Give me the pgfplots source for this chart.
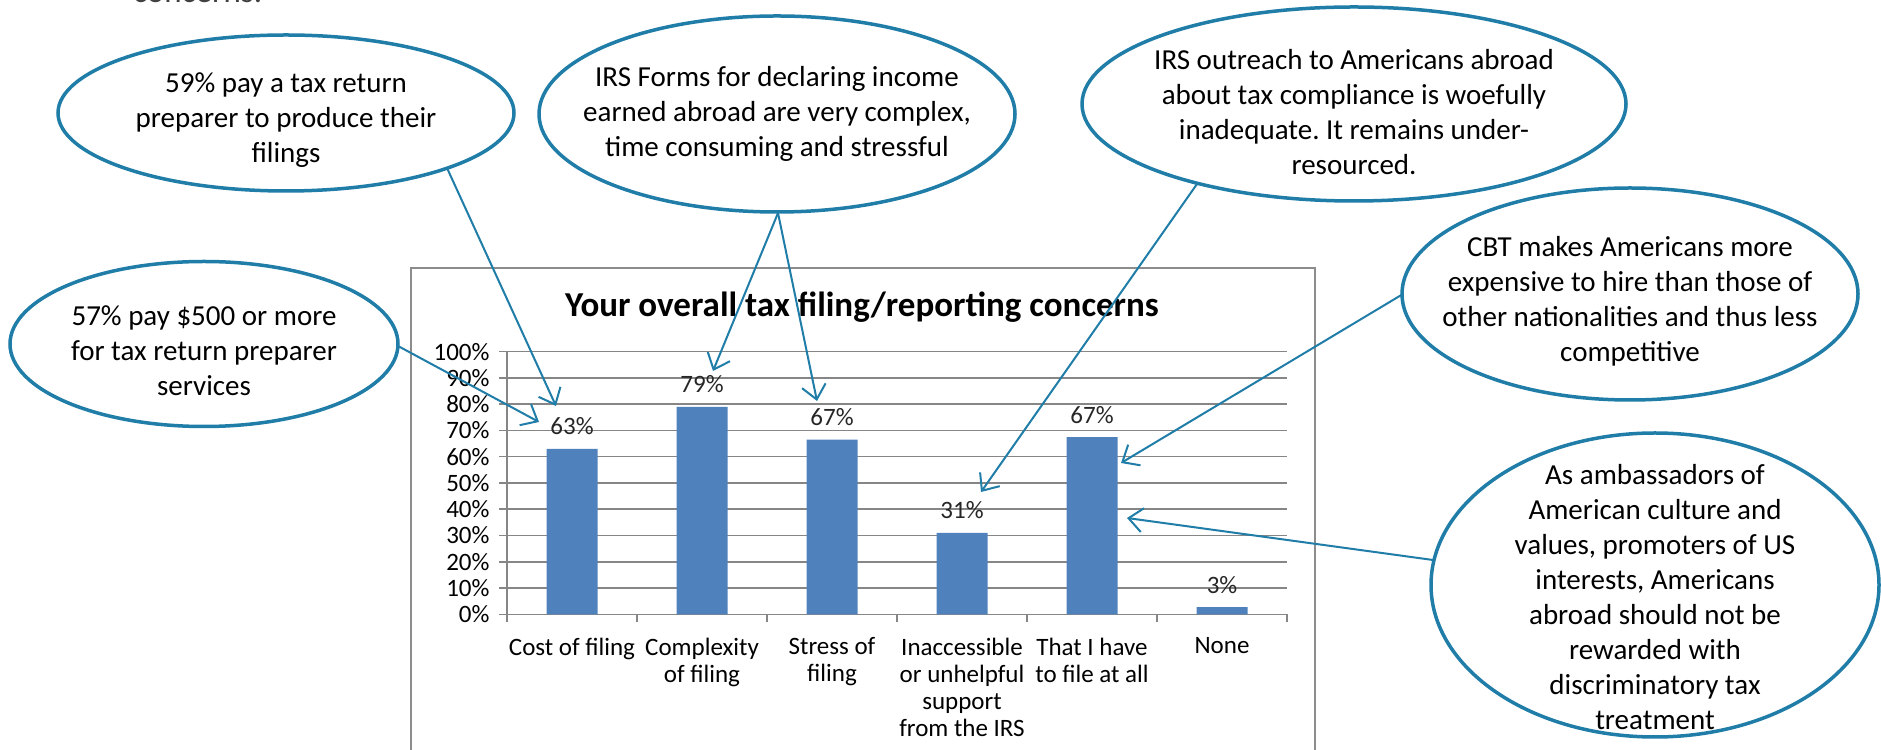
\documentclass[border=0pt]{standalone}
\usepackage{fontspec}
\setmainfont{Carlito}
\usepackage{pgfplots}
\pgfplotsset{compat=1.18}
\usetikzlibrary{arrows.meta}
\definecolor{teal1}{RGB}{31,125,168}
\definecolor{barblue}{RGB}{79,129,189}
\definecolor{gridgray}{RGB}{134,134,134}
\definecolor{boxgray}{RGB}{140,140,140}
\definecolor{lblgray}{RGB}{38,38,38}
\newcommand{\ctext}{\fontsize{29bp}{35bp}\selectfont}
\newcommand{\ltext}{\fontsize{25bp}{27bp}\selectfont}
\frenchspacing
\begin{document}
\begin{tikzpicture}[x=1bp,y=1bp]
\useasboundingbox (0,0) rectangle (1881,750);
\node[anchor=base west, text=darkgray, font=\fontsize{33bp}{40bp}\selectfont, inner sep=0pt] at (133,747) {concerns.};
\draw[boxgray, line width=2bp] (411,-20) -- (411,482) -- (1315,482) -- (1315,-20);
\node[font=\bfseries\fontsize{35bp}{42bp}\selectfont] at (862,443) {Your overall tax filing/reporting concerns};
\begin{axis}[
  at={(507bp,135.7bp)}, anchor=south west,
  width=780bp, height=262.7bp, scale only axis,
  xmin=0.5, xmax=6.5, ymin=0, ymax=100,
  axis x line*=bottom, axis y line*=left,
  axis line style={gridgray, line width=1.5bp, -},
  ytick={0,10,...,100},
  yticklabels={0\%,10\%,20\%,30\%,40\%,50\%,60\%,70\%,80\%,90\%,100\%},
  ymajorgrids, major grid style={gridgray, line width=1.5bp},
  xtick={1,...,6},
  xticklabels={Cost of filing, Complexity\\of filing, Stress of\\filing, Inaccessible\\or unhelpful\\support\\from the IRS, That I have\\to file at all, None},
  minor xtick={0.5,1.5,...,6.5},
  tick align=outside, major tick length=8bp, minor tick length=8bp,
  tick style={gridgray, line width=1.5bp},
  major x tick style={draw=none},
  ticklabel style={font=\ltext, text=black},
  xticklabel style={align=center, yshift=-12bp},
  yticklabel style={xshift=-6bp},
  ybar, bar width=51bp,
  clip=false,
  nodes near coords={\pgfplotspointmeta}, point meta=explicit symbolic,
  every node near coord/.append style={font=\ltext, text=lblgray, anchor=base, yshift=14bp},
]
\addplot[fill=barblue, draw=none] coordinates {(1,63)[63\%] (2,79)[79\%] (3,66.5)[67\%] (4,31)[31\%] (5,67.4)[67\%] (6,2.7)[3\%]};
\end{axis}
\begin{scope}[teal1, line width=2bp]
\draw[-{Straight Barb[length=14bp, width=24bp]}] (447,582) -- (556,344);
\draw[-{Straight Barb[length=14bp, width=24bp]}] (778,537) -- (713,379);
\draw[-{Straight Barb[length=14bp, width=24bp]}] (778,537) -- (817,349);
\draw[-{Straight Barb[length=14bp, width=24bp]}] (398,404) -- (539,328);
\draw[-{Straight Barb[length=14bp, width=24bp]}] (1197,566) -- (981,258);
\draw[-{Straight Barb[length=14bp, width=24bp]}] (1403,456) -- (1121,287);
\draw[-{Straight Barb[length=14bp, width=24bp]}] (1433,190) -- (1127,232);
\end{scope}
\begin{scope}[teal1, line width=3.5bp]
\draw[fill=white] (286,637) ellipse [x radius=228bp, y radius=78bp];
\draw[fill=white] (777,636) ellipse [x radius=238bp, y radius=98bp];
\draw[fill=white] (204,406) ellipse [x radius=194bp, y radius=82.5bp];
\draw[fill=white] (1354,646) ellipse [x radius=272bp, y radius=97bp];
\draw[fill=white] (1630,456) ellipse [x radius=228bp, y radius=106bp];
\draw[fill=white] (1655,165) ellipse [x radius=224bp, y radius=152bp];
\end{scope}
\begin{scope}[every node/.style={align=center, font=\ctext, text=black}]
\node at (286,630) {59\% pay a tax return\\preparer to produce their\\filings};
\node at (777,636) {IRS Forms for declaring income\\earned abroad are very complex,\\time consuming and stressful};
\node at (204,399) {57\% pay \$500 or more\\for tax return preparer\\services};
\node at (1354,638) {IRS outreach to Americans abroad\\about tax compliance is woefully\\inadequate. It remains under-\\resourced.};
\node at (1630,449) {CBT makes Americans more\\expensive to hire than those of\\other nationalities and thus less\\competitive};
\node at (1655,153) {As ambassadors of\\American culture and\\values, promoters of US\\interests, Americans\\abroad should not be\\rewarded with\\discriminatory tax\\treatment};
\end{scope}
\end{tikzpicture}
\end{document}
